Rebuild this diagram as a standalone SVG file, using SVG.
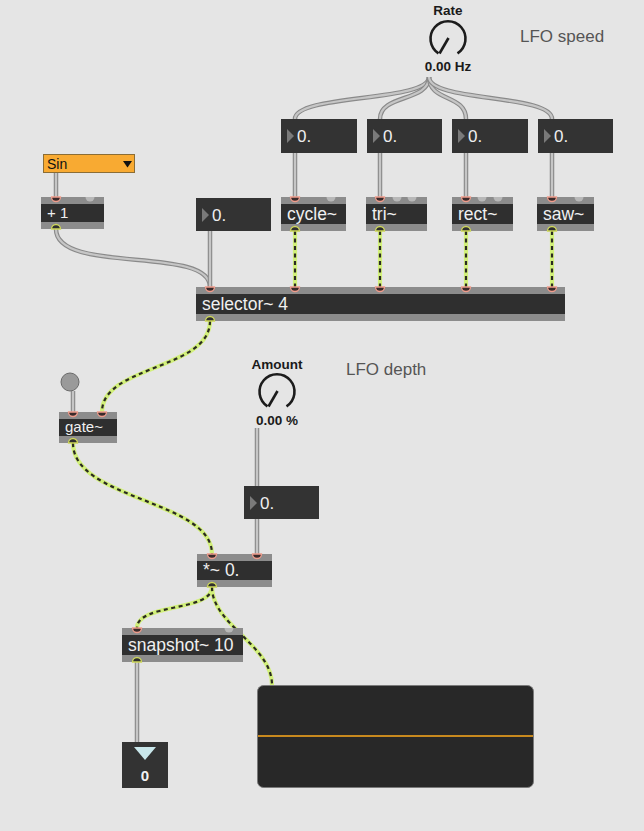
<svg xmlns="http://www.w3.org/2000/svg" width="644" height="831" viewBox="0 0 644 831">
<style>
.strip{fill:#8c8c8c}
.body{fill:#2f2f2f}
.otxt{font-family:"Liberation Sans",Arial,sans-serif;font-size:17.5px;fill:#f0f0f0}
.stxt{font-family:"Liberation Sans",Arial,sans-serif;font-size:15px;fill:#f0f0f0}
.nbox{fill:#333333}
.ntri{fill:#7a7a7a}
.ntxt{font-family:"Liberation Sans",Arial,sans-serif;font-size:17px;fill:#eeeeee}
.lbl{font-family:"Liberation Sans",Arial,sans-serif;font-size:17px;fill:#555555}
.dlbl{font-family:"Liberation Sans",Arial,sans-serif;font-size:13.5px;font-weight:bold;fill:#1a1a1a;text-anchor:middle}
.dial{fill:none;stroke:#1c1c1c;stroke-width:2.6;stroke-linecap:butt}
.inl{fill:#3a2b2b;stroke:#ee9c8c;stroke-width:1.3}
.ing{fill:#b8b8b8}
.outl{fill:#2f2f2f;stroke:#cdd65a;stroke-width:1.3}
.cA{fill:none;stroke:#8a8a8a;stroke-width:4.5}
.cB{fill:none;stroke:#c6c6c6;stroke-width:2.2}
.sA{fill:none;stroke:#d2f07a;stroke-width:4.2}
.sB{fill:none;stroke:#2a2a20;stroke-width:2.2;stroke-dasharray:4 3.5}
</style>
<rect width="644" height="831" fill="#e5e5e5"/>

<g id="connectors">
  <g>
    <path class="cA" d="M429,77 C429,102 295,94 295,119"/><path class="cB" d="M429,77 C429,102 295,94 295,119"/>
    <path class="cA" d="M429,77 C429,102 380,94 380,119"/><path class="cB" d="M429,77 C429,102 380,94 380,119"/>
    <path class="cA" d="M429,77 C429,102 466,94 466,119"/><path class="cB" d="M429,77 C429,102 466,94 466,119"/>
    <path class="cA" d="M429,77 C429,102 552,94 552,119"/><path class="cB" d="M429,77 C429,102 552,94 552,119"/>
    <path class="cA" d="M295,153 L295,197"/><path class="cB" d="M295,153 L295,197"/>
    <path class="cA" d="M380,153 L380,197"/><path class="cB" d="M380,153 L380,197"/>
    <path class="cA" d="M466,153 L466,197"/><path class="cB" d="M466,153 L466,197"/>
    <path class="cA" d="M552,153 L552,197"/><path class="cB" d="M552,153 L552,197"/>
    <path class="cA" d="M56,173 L56,197"/><path class="cB" d="M56,173 L56,197"/>
    <path class="cA" d="M56,229 C56,275 210,245 210,287"/><path class="cB" d="M56,229 C56,275 210,245 210,287"/>
    <path class="cA" d="M210,231 L210,287"/><path class="cB" d="M210,231 L210,287"/>
    <path class="cA" d="M73,391 L73,412"/><path class="cB" d="M73,391 L73,412"/>
    <path class="cA" d="M257,428 L257,486"/><path class="cB" d="M257,428 L257,486"/>
    <path class="cA" d="M257,519 L257,554"/><path class="cB" d="M257,519 L257,554"/>
    <path class="cA" d="M137,662 L137,742"/><path class="cB" d="M137,662 L137,742"/>
  </g>
  <g>
    <path class="sA" d="M295,231 L295,287"/><path class="sB" d="M295,231 L295,287"/>
    <path class="sA" d="M380,231 L380,287"/><path class="sB" d="M380,231 L380,287"/>
    <path class="sA" d="M466,231 L466,287"/><path class="sB" d="M466,231 L466,287"/>
    <path class="sA" d="M552,231 L552,287"/><path class="sB" d="M552,231 L552,287"/>
    <path class="sA" d="M210,321 C210,370 102,365 102,412"/><path class="sB" d="M210,321 C210,370 102,365 102,412"/>
    <path class="sA" d="M73,443 C73,500 212,500 212,554"/><path class="sB" d="M73,443 C73,500 212,500 212,554"/>
    <path class="sA" d="M212,587 C212,612 137,603 137,628"/><path class="sB" d="M212,587 C212,612 137,603 137,628"/>
    <path class="sA" d="M212,587 C212,625 272,645 272,685"/><path class="sB" d="M212,587 C212,625 272,645 272,685"/>
  </g>
</g>

<g id="rate-dial">
  <text class="dlbl" x="448" y="15">Rate</text>
  <path class="dial" d="M438.5,53.4 A17.5,17.5 0 1 1 457.5,53.4"/>
  <line x1="448.5" y1="38" x2="439.5" y2="53.5" stroke="#1c1c1c" stroke-width="2.6"/>
  <text class="dlbl" x="448" y="71" font-size="14">0.00 Hz</text>
</g>

<g id="label-lfo-speed"><text class="lbl" x="520" y="42">LFO speed</text></g>
<g id="label-lfo-depth"><text class="lbl" x="346" y="375">LFO depth</text></g>

<g id="num1"><rect class="nbox" x="281" y="119" width="76" height="34"/><path class="ntri" d="M287,129 L287,143 L294,136 Z"/><text class="ntxt" x="297" y="142">0.</text></g>
<g id="num2"><rect class="nbox" x="367" y="119" width="75" height="34"/><path class="ntri" d="M373,129 L373,143 L380,136 Z"/><text class="ntxt" x="383" y="142">0.</text></g>
<g id="num3"><rect class="nbox" x="452" y="119" width="76" height="34"/><path class="ntri" d="M458,129 L458,143 L465,136 Z"/><text class="ntxt" x="468" y="142">0.</text></g>
<g id="num4"><rect class="nbox" x="538" y="119" width="75" height="34"/><path class="ntri" d="M544,129 L544,143 L551,136 Z"/><text class="ntxt" x="554" y="142">0.</text></g>

<g id="umenu">
  <rect x="43.5" y="154.5" width="91" height="18" fill="#f8aa32" stroke="#8b6d35" stroke-width="1"/>
  <text x="47" y="169" font-family="'Liberation Sans',Arial,sans-serif" font-size="14" fill="#111">Sin</text>
  <path d="M123,161 L132,161 L127.5,167.5 Z" fill="#111"/>
</g>

<g id="plus1">
  <rect class="strip" x="41" y="197" width="63" height="32"/>
  <rect class="body" x="41" y="204" width="63" height="18"/>
  <text class="stxt" x="47" y="218">+ 1</text>
  <path class="inl" d="M51.5,197 A4.5,4.5 0 0 0 60.5,197 Z"/>
  <path class="ing" d="M85.5,197 A4.5,4.5 0 0 0 94.5,197 Z"/>
  <path class="outl" d="M51.5,229 A4.5,4.5 0 0 1 60.5,229 Z"/>
</g>

<g id="num-sel">
  <rect class="nbox" x="196" y="198" width="75" height="33"/><path class="ntri" d="M202,208 L202,222 L209,215 Z"/><text class="ntxt" x="212" y="221">0.</text>
</g>

<g id="cycle">
  <rect class="strip" x="281" y="197" width="65" height="34"/>
  <rect class="body" x="281" y="204" width="65" height="20"/>
  <text class="otxt" x="287" y="220">cycle~</text>
  <path class="inl" d="M290.5,197 A4.5,4.5 0 0 0 299.5,197 Z"/>
  <path class="ing" d="M326.5,197 A4.5,4.5 0 0 0 335.5,197 Z"/>
  <path class="outl" d="M290.5,231 A4.5,4.5 0 0 1 299.5,231 Z"/>
</g>
<g id="tri">
  <rect class="strip" x="366" y="197" width="61" height="34"/>
  <rect class="body" x="366" y="204" width="61" height="20"/>
  <text class="otxt" x="372" y="220">tri~</text>
  <path class="inl" d="M375.5,197 A4.5,4.5 0 0 0 384.5,197 Z"/>
  <path class="ing" d="M392.5,197 A4.5,4.5 0 0 0 401.5,197 Z"/>
  <path class="ing" d="M407.5,197 A4.5,4.5 0 0 0 416.5,197 Z"/>
  <path class="outl" d="M375.5,231 A4.5,4.5 0 0 1 384.5,231 Z"/>
</g>
<g id="rect">
  <rect class="strip" x="452" y="197" width="61" height="34"/>
  <rect class="body" x="452" y="204" width="61" height="20"/>
  <text class="otxt" x="458" y="220">rect~</text>
  <path class="inl" d="M461.5,197 A4.5,4.5 0 0 0 470.5,197 Z"/>
  <path class="ing" d="M477.5,197 A4.5,4.5 0 0 0 486.5,197 Z"/>
  <path class="ing" d="M493.5,197 A4.5,4.5 0 0 0 502.5,197 Z"/>
  <path class="outl" d="M461.5,231 A4.5,4.5 0 0 1 470.5,231 Z"/>
</g>
<g id="saw">
  <rect class="strip" x="537" y="197" width="57" height="34"/>
  <rect class="body" x="537" y="204" width="57" height="20"/>
  <text class="otxt" x="543" y="220">saw~</text>
  <path class="inl" d="M547.5,197 A4.5,4.5 0 0 0 556.5,197 Z"/>
  <path class="ing" d="M574.5,197 A4.5,4.5 0 0 0 583.5,197 Z"/>
  <path class="outl" d="M547.5,231 A4.5,4.5 0 0 1 556.5,231 Z"/>
</g>

<g id="selector">
  <rect class="strip" x="196" y="287" width="369" height="34"/>
  <rect class="body" x="196" y="294" width="369" height="20"/>
  <text class="otxt" x="202" y="310">selector~ 4</text>
  <path class="inl" d="M205.5,287 A4.5,4.5 0 0 0 214.5,287 Z"/>
  <path class="inl" d="M290.5,287 A4.5,4.5 0 0 0 299.5,287 Z"/>
  <path class="inl" d="M375.5,287 A4.5,4.5 0 0 0 384.5,287 Z"/>
  <path class="inl" d="M461.5,287 A4.5,4.5 0 0 0 470.5,287 Z"/>
  <path class="inl" d="M547.5,287 A4.5,4.5 0 0 0 556.5,287 Z"/>
  <path class="outl" d="M205.5,321 A4.5,4.5 0 0 1 214.5,321 Z"/>
</g>

<g id="button">
  <circle cx="70" cy="382" r="9" fill="#9a9a9a" stroke="#6a6a6a" stroke-width="1"/>
</g>

<g id="gate">
  <rect class="strip" x="59" y="412" width="58" height="31"/>
  <rect class="body" x="59" y="419" width="58" height="17"/>
  <text class="stxt" x="65" y="432">gate~</text>
  <path class="inl" d="M68.5,412 A4.5,4.5 0 0 0 77.5,412 Z"/>
  <path class="inl" d="M97.5,412 A4.5,4.5 0 0 0 106.5,412 Z"/>
  <path class="outl" d="M68.5,443 A4.5,4.5 0 0 1 77.5,443 Z"/>
</g>

<g id="amount-dial">
  <text class="dlbl" x="277" y="369">Amount</text>
  <path class="dial" d="M267.5,406.4 A17.5,17.5 0 1 1 286.5,406.4"/>
  <line x1="277.5" y1="391" x2="268.5" y2="406.5" stroke="#1c1c1c" stroke-width="2.6"/>
  <text class="dlbl" x="277" y="425" font-size="14">0.00 %</text>
</g>

<g id="num-amount">
  <rect class="nbox" x="244" y="486" width="75" height="33"/><path class="ntri" d="M250,496 L250,510 L257,503 Z"/><text class="ntxt" x="260" y="509">0.</text>
</g>

<g id="mult">
  <rect class="strip" x="197" y="554" width="75" height="33"/>
  <rect class="body" x="197" y="561" width="75" height="19"/>
  <text class="otxt" x="203" y="576">*~ 0.</text>
  <path class="inl" d="M207.5,554 A4.5,4.5 0 0 0 216.5,554 Z"/>
  <path class="inl" d="M252.5,554 A4.5,4.5 0 0 0 261.5,554 Z"/>
  <path class="outl" d="M207.5,587 A4.5,4.5 0 0 1 216.5,587 Z"/>
</g>

<g id="snapshot">
  <rect class="strip" x="122" y="628" width="121" height="34"/>
  <rect class="body" x="122" y="635" width="121" height="20"/>
  <text class="otxt" x="128" y="651" font-size="16.5">snapshot~ 10</text>
  <path class="inl" d="M132.5,628 A4.5,4.5 0 0 0 141.5,628 Z"/>
  <path class="ing" d="M224.5,628 A4.5,4.5 0 0 0 233.5,628 Z"/>
  <path class="outl" d="M132.5,662 A4.5,4.5 0 0 1 141.5,662 Z"/>
</g>

<g id="scope">
  <rect x="257.5" y="685.5" width="276" height="102" rx="6" fill="#282828" stroke="#7a7a7a" stroke-width="1"/>
  <line x1="258" y1="736" x2="533" y2="736" stroke="#c8891e" stroke-width="2"/>
</g>

<g id="number-out">
  <rect class="nbox" x="122" y="742" width="46" height="46"/>
  <path d="M134,747 L156,747 L145,760 Z" fill="#c9e7eb"/>
  <text x="145" y="781" text-anchor="middle" font-family="'Liberation Sans',Arial,sans-serif" font-size="15" font-weight="bold" fill="#f2f2f2">0</text>
</g>
</svg>
